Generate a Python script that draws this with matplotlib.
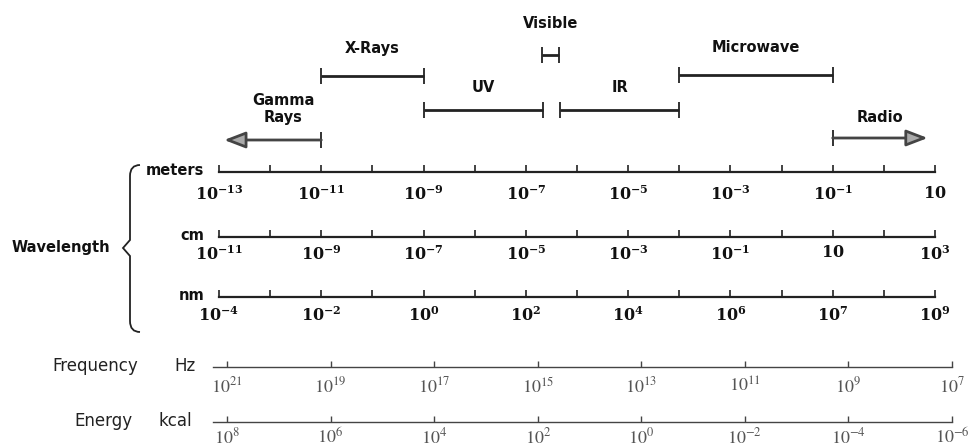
import numpy as np
import matplotlib
matplotlib.use('Agg')
import matplotlib.pyplot as plt
from matplotlib.path import Path
from matplotlib.patches import PathPatch
from matplotlib.ticker import NullFormatter, NullLocator

# spectral bands (wavelength in meters)
bands = ['Gamma\nRays', 'X-Rays', 'UV', 'Visible', 'IR', 'Microwave', 'Radio']
band_lo = [1.26e-13, 1e-11, 1e-9, 2.1e-7, 4.7e-7, 1e-4, 1e-1]
band_hi = [1e-11, 1e-9, 2.2e-7, 4.5e-7, 1e-4, 1e-1, 7.2]
band_arrow = ['left', None, None, None, None, None, 'right']

# scale rows
meters_ticks = [1e-13, 1e-11, 1e-9, 1e-7, 1e-5, 1e-3, 1e-1, 1e1]
meters_labels = ['10^{-13}', '10^{-11}', '10^{-9}', '10^{-7}', '10^{-5}', '10^{-3}', '10^{-1}', '10']
cm_ticks = [1e-11, 1e-9, 1e-7, 1e-5, 1e-3, 1e-1, 1e1, 1e3]
cm_labels = ['10^{-11}', '10^{-9}', '10^{-7}', '10^{-5}', '10^{-3}', '10^{-1}', '10', '10^{3}']
nm_ticks = [1e-4, 1e-2, 1e0, 1e2, 1e4, 1e6, 1e8, 1e10]
nm_labels = ['10^{-4}', '10^{-2}', '10^{0}', '10^{2}', '10^{4}', '10^{6}', '10^{7}', '10^{9}']
hz_ticks = [1e21, 1e19, 1e17, 1e15, 1e13, 1e11, 1e9, 1e7]
hz_labels = ['10^{21}', '10^{19}', '10^{17}', '10^{15}', '10^{13}', '10^{11}', '10^{9}', '10^{7}']
kcal_ticks = [1e8, 1e6, 1e4, 1e2, 1e0, 1e-2, 1e-4, 1e-6]
kcal_labels = ['10^{8}', '10^{6}', '10^{4}', '10^{2}', '10^{0}', '10^{-2}', '10^{-4}', '10^{-6}']

W, H = 976, 448
fig = plt.figure(figsize=(W / 100, H / 100), dpi=100)
fig.patch.set_facecolor('white')

# background axes in pixel coordinates for loose labels
bg = fig.add_axes([0, 0, 1, 1])
bg.set_xlim(0, W)
bg.set_ylim(H, 0)
bg.axis('off')

# bands on top, same scale as meters row
top = fig.add_axes([219 / W, 1 - 165 / H, 716 / W, 165 / H])
top.set_xscale('log')
top.set_xlim(1e-13, 1e1)
top.set_ylim(165, 0)
top.axis('off')

arrow_style = dict(arrowstyle='-|>,head_length=1.3,head_width=0.5',
                   mutation_scale=10, lw=2, ec='#444', fc='#aaa',
                   shrinkA=0, shrinkB=0)
bar_rows = [140, 76, 110, 55, 110, 75, 138]
label_rows = [109, 49, 88, 24, 88, 48, 118]
for name, lo, hi, arr, yb, yl in zip(bands, band_lo, band_hi, band_arrow, bar_rows, label_rows):
    if arr == 'left':
        top.annotate('', xy=(lo, yb), xytext=(hi, yb), arrowprops=arrow_style)
        top.vlines(hi, yb - 8, yb + 8, color='#222', lw=1.3)
        xc = np.sqrt(lo * hi) * 1.6
    elif arr == 'right':
        top.annotate('', xy=(hi, yb), xytext=(lo, yb), arrowprops=arrow_style)
        top.vlines(lo, yb - 8, yb + 8, color='#222', lw=1.3)
        xc = np.sqrt(lo * hi)
    else:
        top.hlines(yb, lo, hi, color='#222', lw=2)
        top.vlines([lo, hi], yb - 8, yb + 8, color='#222', lw=1.3)
        xc = np.sqrt(lo * hi)
    top.text(xc, yl, name, ha='center', va='center', fontsize=10.5,
             fontweight='bold', linespacing=1.1, color='#111')


def scale_row(y, x0, x1, lim, ticks, labels, minor, bold, pad):
    ax = fig.add_axes([x0 / W, 1 - y / H, (x1 - x0) / W, 1 / H])
    ax.set_xscale('log')
    ax.set_xlim(lim)
    ax.set_ylim(0, 1)
    for s in ['left', 'right', 'top']:
        ax.spines[s].set_visible(False)
    ax.patch.set_visible(False)
    ax.set_yticks([])
    if bold:
        txt = [r'$\mathbf{' + l + '}$' for l in labels]
    else:
        txt = ['$' + l + '$' for l in labels]
    ax.set_xticks(ticks)
    ax.set_xticklabels(txt)
    if minor is not None:
        ax.set_xticks(minor, minor=True)
    else:
        ax.xaxis.set_minor_locator(NullLocator())
    ax.xaxis.set_minor_formatter(NullFormatter())
    if bold:
        ax.spines['bottom'].set_linewidth(1.6)
        ax.spines['bottom'].set_color('#222')
        ax.tick_params(axis='x', which='both', direction='in', length=5, width=1.2,
                       color='#222', pad=pad, labelsize=11.5, labelcolor='#111')
        for t in ax.get_xticklabels():
            t.set_math_fontfamily('dejavuserif')
    else:
        ax.spines['bottom'].set_linewidth(1.0)
        ax.spines['bottom'].set_color('#444')
        ax.tick_params(axis='x', which='both', direction='in', length=4, width=1.0,
                       color='#444', pad=pad, labelsize=13, labelcolor='#555')
        for t in ax.get_xticklabels():
            t.set_math_fontfamily('stix')
    return ax


scale_row(172, 219, 935, (1e-13, 1e1), meters_ticks, meters_labels,
          10.0 ** np.arange(-12, 1, 2), True, 9)
scale_row(237, 219, 935, (1e-11, 1e3), cm_ticks, cm_labels,
          10.0 ** np.arange(-10, 3, 2), True, 5)
scale_row(297, 219, 935, (1e-4, 1e10), nm_ticks, nm_labels,
          10.0 ** np.arange(-3, 10, 2), True, 6)
scale_row(367, 213, 952, (10 ** 21.27, 1e7), hz_ticks, hz_labels, None, False, 7)
scale_row(422, 213, 952, (10 ** 8.27, 1e-6), kcal_ticks, kcal_labels, None, False, 4)

# left labels
bg.text(204, 175, 'meters', ha='right', va='baseline', fontsize=10.5, fontweight='bold', color='#111')
bg.text(204, 240, 'cm', ha='right', va='baseline', fontsize=10.5, fontweight='bold', color='#111')
bg.text(204, 300, 'nm', ha='right', va='baseline', fontsize=10.5, fontweight='bold', color='#111')
bg.text(12, 252, 'Wavelength', ha='left', va='baseline', fontsize=10.5, fontweight='bold', color='#111')
bg.text(52, 371, 'Frequency', ha='left', va='baseline', fontsize=12, color='#222')
bg.text(174, 371, 'Hz', ha='left', va='baseline', fontsize=12, color='#222')
bg.text(74, 426, 'Energy', ha='left', va='baseline', fontsize=12, color='#222')
bg.text(159, 426, 'kcal', ha='left', va='baseline', fontsize=12, color='#222')

# brace
verts = [(140, 165), (130, 165), (130, 176), (130, 240), (123, 248), (130, 256),
         (130, 321), (130, 332), (140, 332)]
codes = [Path.MOVETO, Path.CURVE3, Path.CURVE3, Path.LINETO, Path.LINETO, Path.LINETO,
         Path.LINETO, Path.CURVE3, Path.CURVE3]
bg.add_patch(PathPatch(Path(verts, codes), fc='none', ec='#222', lw=1.3))

fig.savefig('out.png', dpi=100, facecolor='white')
